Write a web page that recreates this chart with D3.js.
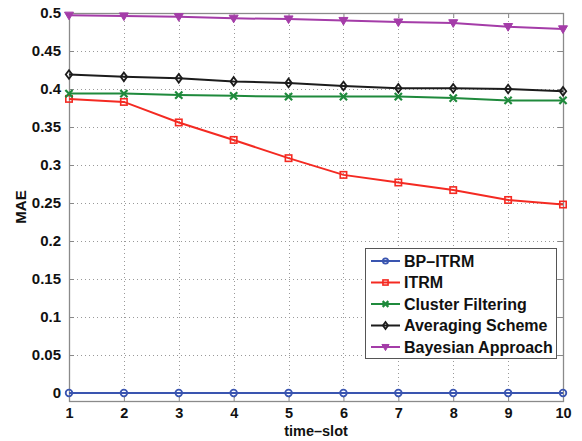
<!DOCTYPE html>
<html>
<head>
<meta charset="utf-8">
<script src="https://cdn.jsdelivr.net/npm/d3@7"></script>
<style>
  body { margin: 0; background: #fff; }
  text { font-family: "Liberation Sans", Arial, sans-serif; font-weight: bold; fill: #111; }
</style>
</head>
<body>
<div id="chart"></div>
<script>
const timeSlots = [1, 2, 3, 4, 5, 6, 7, 8, 9, 10];
const bpItrm = [0, 0, 0, 0, 0, 0, 0, 0, 0, 0];
const itrm = [0.387, 0.383, 0.356, 0.333, 0.309, 0.287, 0.277, 0.267, 0.254, 0.248];
const clusterFiltering = [0.394, 0.394, 0.392, 0.391, 0.390, 0.390, 0.390, 0.388, 0.385, 0.385];
const averagingScheme = [0.419, 0.416, 0.414, 0.410, 0.408, 0.404, 0.401, 0.401, 0.400, 0.397];
const bayesian = [0.497, 0.496, 0.495, 0.493, 0.492, 0.490, 0.488, 0.487, 0.482, 0.479];
const yTicks = [0, 0.05, 0.1, 0.15, 0.2, 0.25, 0.3, 0.35, 0.4, 0.45, 0.5];

const series = [
  { name: "BP\u2013ITRM", values: bpItrm, color: "#3a55b0", marker: "circle" },
  { name: "ITRM", values: itrm, color: "#f42a22", marker: "square" },
  { name: "Cluster Filtering", values: clusterFiltering, color: "#1f8a3c", marker: "x" },
  { name: "Averaging Scheme", values: averagingScheme, color: "#1c1c1c", marker: "diamond" },
  { name: "Bayesian Approach", values: bayesian, color: "#a43ca8", marker: "triangle" }
];

const width = 582, height = 441;
const margin = { left: 69, right: 19, top: 13, bottom: 40 };

const svg = d3.select("#chart").append("svg")
  .attr("width", width).attr("height", height);

const x = d3.scaleLinear().domain([1, 10]).range([margin.left, width - margin.right]);
const y = d3.scaleLinear().domain([-0.0105, 0.5]).range([height - margin.bottom, margin.top]);

const x0 = margin.left, x1 = width - margin.right;
const y0 = height - margin.bottom, y1 = margin.top;

// grid
const grid = svg.append("g").attr("stroke", "#999").attr("stroke-width", 1).attr("stroke-dasharray", "1,3");
grid.selectAll(".gx").data(timeSlots.slice(1, -1)).enter().append("line")
  .attr("x1", d => Math.round(x(d)) + 0.5).attr("x2", d => Math.round(x(d)) + 0.5)
  .attr("y1", y1).attr("y2", y0);
grid.selectAll(".gy").data(yTicks.slice(0, -1)).enter().append("line")
  .attr("x1", x0).attr("x2", x1)
  .attr("y1", d => Math.round(y(d)) + 0.5).attr("y2", d => Math.round(y(d)) + 0.5);

// axes
const fmt = d => d3.format("")(+d.toFixed(2));
const yAxis = svg.append("g").attr("transform", `translate(${x0},0)`)
  .call(d3.axisLeft(y).tickValues(yTicks).tickSize(-5).tickPadding(8).tickFormat(fmt));
const yAxisR = svg.append("g").attr("transform", `translate(${x1},0)`)
  .call(d3.axisRight(y).tickValues(yTicks).tickSize(-5).tickFormat(""));
const xAxis = svg.append("g").attr("transform", `translate(0,${y0})`)
  .call(d3.axisBottom(x).tickValues(timeSlots).tickSize(-5).tickPadding(7).tickFormat(d3.format("d")));
const xAxisT = svg.append("g").attr("transform", `translate(0,${y1})`)
  .call(d3.axisTop(x).tickValues(timeSlots).tickSize(-5).tickFormat(""));

[yAxis, yAxisR, xAxis, xAxisT].forEach(a => {
  a.select(".domain").remove();
  a.selectAll(".tick line").attr("stroke", "#888");
  a.selectAll("text").attr("font-size", 15).attr("font-family", "Liberation Sans, Arial, sans-serif")
    .attr("font-weight", "bold").attr("fill", "#111");
});
xAxis.selectAll("text").attr("font-size", 14.5);

svg.append("rect").attr("x", x0 + 0.5).attr("y", y1 + 0.5)
  .attr("width", x1 - x0).attr("height", y0 - y1)
  .attr("fill", "none").attr("stroke", "#8a8a8a").attr("stroke-width", 1.3);

// labels
svg.append("text").attr("x", (x0 + x1) / 2).attr("y", 436)
  .attr("text-anchor", "middle").attr("font-size", 14.5).text("time\u2013slot");
svg.append("text").attr("transform", `translate(26,${(y0 + y1) / 2}) rotate(-90)`)
  .attr("text-anchor", "middle").attr("font-size", 15).text("MAE");

function drawMarker(g, type, color, cx, cy, s) {
  if (type === "circle") {
    g.append("circle").attr("cx", cx).attr("cy", cy).attr("r", 3.3 * s)
      .attr("fill", "none").attr("stroke", color).attr("stroke-width", 1.8);
  } else if (type === "square") {
    g.append("rect").attr("x", cx - 3.2 * s).attr("y", cy - 3.2 * s)
      .attr("width", 6.4 * s).attr("height", 6.4 * s)
      .attr("fill", "none").attr("stroke", color).attr("stroke-width", 1.6);
  } else if (type === "x") {
    const r = 3.6 * s;
    g.append("path").attr("d", `M${cx - r},${cy - r}L${cx + r},${cy + r}M${cx - r},${cy + r}L${cx + r},${cy - r}`)
      .attr("stroke", color).attr("stroke-width", 2.2).attr("fill", "none");
  } else if (type === "diamond") {
    const r = 4.3 * s;
    g.append("path").attr("d", `M${cx},${cy - r}L${cx + r * 0.75},${cy}L${cx},${cy + r}L${cx - r * 0.75},${cy}Z`)
      .attr("fill", "none").attr("stroke", color).attr("stroke-width", 1.8);
  } else if (type === "triangle") {
    const r = 4.5 * s;
    g.append("path").attr("d", `M${cx - r},${cy - r * 0.7}L${cx + r},${cy - r * 0.7}L${cx},${cy + r}Z`)
      .attr("fill", color).attr("stroke", color).attr("stroke-width", 1);
  }
}

const line = d3.line().x((d, i) => x(timeSlots[i])).y(d => y(d));

series.forEach(s => {
  const g = svg.append("g");
  g.append("path").datum(s.values).attr("d", line)
    .attr("fill", "none").attr("stroke", s.color).attr("stroke-width", 2);
  s.values.forEach((v, i) => drawMarker(g, s.marker, s.color, x(timeSlots[i]), y(v), 1));
});

// legend
const lg = svg.append("g");
lg.append("rect").attr("x", 365.5).attr("y", 248.5).attr("width", 191).attr("height", 110)
  .attr("fill", "#fff").attr("stroke", "#555").attr("stroke-width", 1);
series.forEach((s, i) => {
  const cy = 261 + i * 21.5;
  lg.append("line").attr("x1", 371).attr("x2", 400).attr("y1", cy).attr("y2", cy)
    .attr("stroke", s.color).attr("stroke-width", 2);
  drawMarker(lg, s.marker, s.color, 385.5, cy, 0.8);
  lg.append("text").attr("x", 404).attr("y", cy + 5.5).attr("font-size", 16).text(s.name);
});
</script>
</body>
</html>
